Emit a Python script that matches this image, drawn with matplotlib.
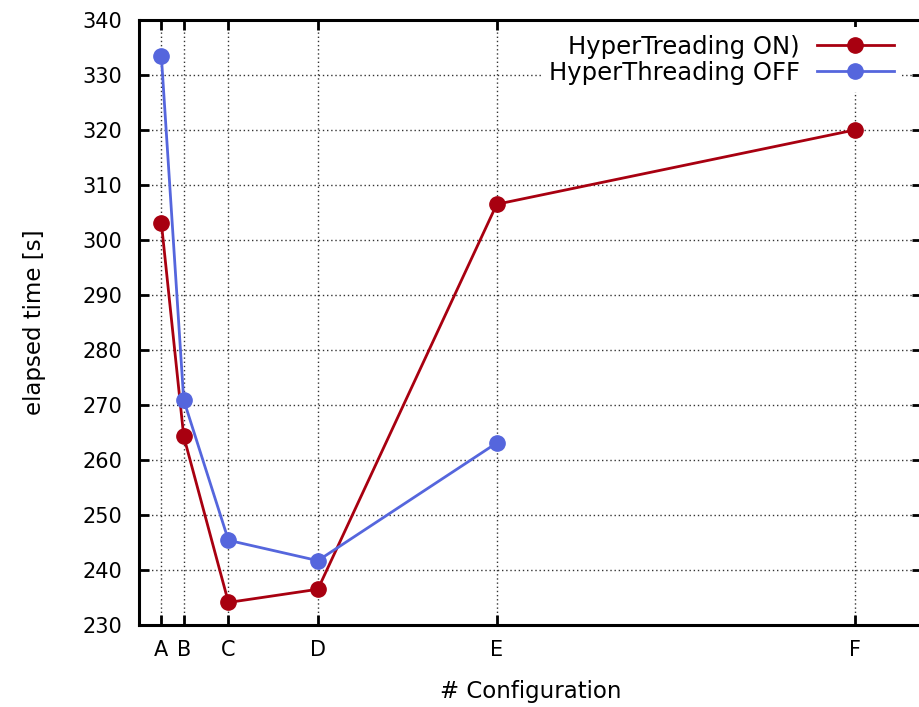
import matplotlib
matplotlib.use("Agg")
import matplotlib.pyplot as plt

# Data
configs = ["A", "B", "C", "D", "E", "F"]
config_x = [1, 2, 4, 8, 16, 32]
ht_on = [303.1, 264.3, 234.1, 236.5, 306.5, 320.0]
ht_off_x = [1, 2, 4, 8, 16]
ht_off = [333.4, 270.9, 245.4, 241.7, 263.1]
yticks = list(range(230, 341, 10))

plt.rcParams['font.family'] = ['DejaVu Sans']

fig = plt.figure(figsize=(9.19, 7.07), dpi=100)
ax = fig.add_axes([139/919, 82/707, (921.6-139)/919, (625-20)/707])

red = '#a80010'
blue = '#5566dd'

ax.plot(config_x, ht_on, color=red, lw=2.0, marker='o', ms=11,
        label='HyperTreading ON)', zorder=3)
ax.plot(ht_off_x, ht_off, color=blue, lw=2.0, marker='o', ms=11,
        label='HyperThreading OFF', zorder=3)

ax.set_xlim(0, 35)
ax.set_ylim(230, 340)
ax.set_xticks(config_x)
ax.set_xticklabels(configs)
ax.set_yticks(yticks)

ax.grid(True, linestyle=(0, (1, 2)), color='#333333', lw=1.0, zorder=1)
ax.tick_params(direction='in', length=7, width=2, top=True, right=True,
               labelsize=15)
ax.tick_params(axis='y', pad=12)
ax.tick_params(axis='x', pad=11)
for s in ax.spines.values():
    s.set_linewidth(2.2)

ax.set_xlabel('# Configuration', fontsize=16.5, labelpad=14)
ax.set_ylabel('elapsed time [s]', fontsize=16.5, labelpad=26)

leg = ax.legend(loc='upper right', bbox_to_anchor=(0.99, 1.008), markerfirst=False,
                frameon=True, framealpha=1.0, edgecolor='none', facecolor='white',
                fancybox=False, fontsize=17.5, handlelength=3.2, handletextpad=0.7,
                labelspacing=0.08, borderpad=0.3)
leg.set_zorder(5)

fig.savefig('out.png', dpi=100)
